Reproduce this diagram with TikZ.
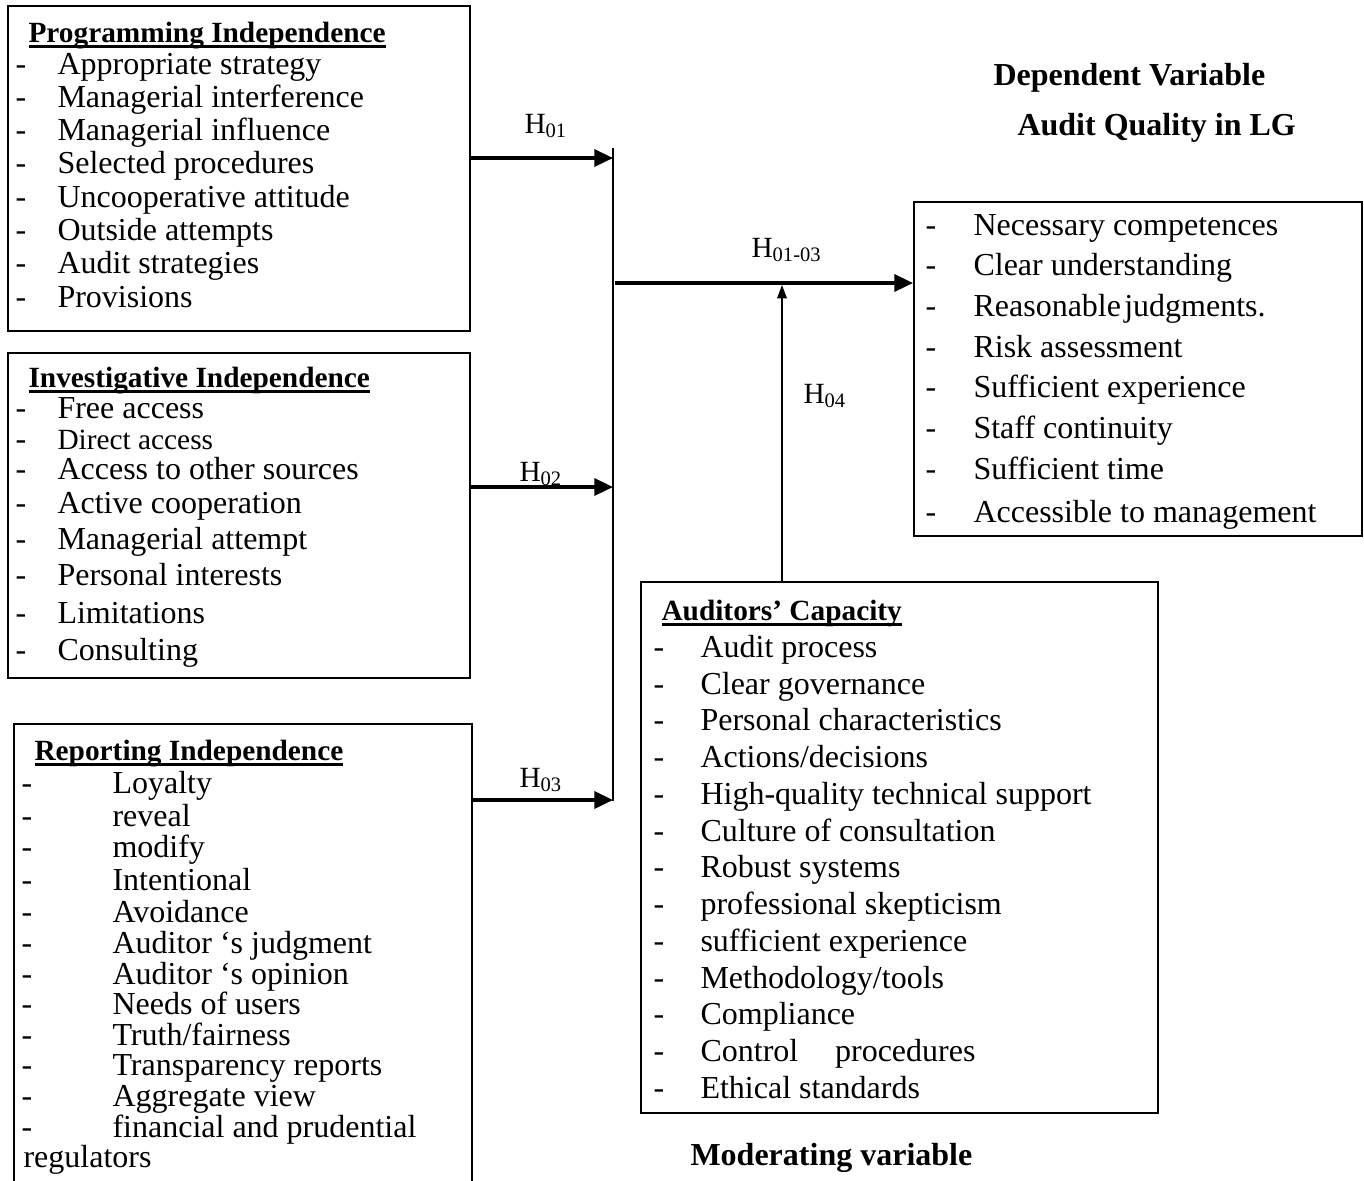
\documentclass[tikz,border=0pt]{standalone}
\usepackage{fontspec}
\setmainfont{Liberation Serif}
\usetikzlibrary{arrows.meta,fit}

% thick underline for the box headings
\newcommand{\headul}[1]{\setbox0=\hbox{#1}\rlap{\rule[-2.4pt]{\wd0}{1.1pt}}\box0}

\begin{document}
\begin{tikzpicture}[x=0.375pt,y=-0.375pt,
  box/.style={draw, line width=0.75pt, inner sep=0pt},
  item/.style={anchor=base west, inner sep=0pt, font=\fontsize{12}{14}\selectfont},
  head/.style={anchor=base west, inner sep=0pt, font=\fontsize{11}{13}\selectfont\bfseries},
  title/.style={anchor=base west, inner sep=0pt, font=\fontsize{12}{14}\selectfont\bfseries},
  hyp/.style={anchor=base west, inner sep=0pt, font=\fontsize{11}{13}\selectfont},
  link/.style={line width=1.2pt, -{Triangle[length=7pt,width=6.4pt]}},
  thinlink/.style={line width=0.55pt, -{Triangle[length=5pt,width=3.6pt]}}]
  \useasboundingbox (0,0) rectangle (1364,1180);
  \clip (0,0) rectangle (1364,1180);

  % independent variables
  \node[box, fit={(8,6) (470,331)}] (prog) {};
  \node[head] (proghead) at (28,42) {\headul{Programming Independence}};
  \foreach \y/\txt [count=\i] in {74/Appropriate strategy, 107/Managerial interference,
      140/Managerial influence, 173/Selected procedures, 207/Uncooperative attitude,
      240/Outside attempts, 273/Audit strategies, 307/Provisions} {
    \node[item] (progd\i) at (15,\y) {-};
    \node[item] (progi\i) at (57,\y) {\txt};
  }

  \node[box, fit={(8,353) (470,678)}] (invest) {};
  \node[head] (investhead) at (28,387) {\headul{Investigative Independence}};
  \foreach \y/\txt [count=\i] in {418/Free access, 449/{\fontsize{11}{13}\selectfont Direct access},
      479/Access to other sources, 513/Active cooperation, 549/Managerial attempt,
      585/Personal interests, 623/Limitations, 660/Consulting} {
    \node[item] (investd\i) at (15,\y) {-};
    \node[item] (investi\i) at (57,\y) {\txt};
  }

  \node[box, fit={(14,724) (472,1200)}] (report) {};
  \node[head] (reporthead) at (34,760) {\headul{Reporting Independence}};
  \foreach \y/\txt [count=\i] in {793/Loyalty, 826/reveal, 857/modify, 890/Intentional,
      922/Avoidance, 953/Auditor ‘s judgment, 984/Auditor ‘s opinion, 1014/Needs of users,
      1045/{Truth/fairness}, 1075/Transparency reports, 1106/Aggregate view,
      1137/financial and prudential} {
    \node[item] (reportd\i) at (21,\y) {-};
    \node[item] (reporti\i) at (112,\y) {\txt};
  }
  \node[item] (reportlast) at (23,1167) {regulators};

  % dependent variable
  \node[title] (deptitle) at (993,85) {Dependent Variable};
  \node[title] (depname) at (1017,135) {Audit Quality in LG};
  \node[box, fit={(914,202) (1362,536)}] (quality) {};
  \foreach \y/\txt [count=\i] in {235/Necessary competences, 275/Clear understanding,
      316/Reasonable\hspace{0.1em}judgments., 357/Risk assessment, 397/Sufficient experience,
      438/Staff continuity, 479/Sufficient time, 522/Accessible to management} {
    \node[item] (qualityd\i) at (925,\y) {-};
    \node[item] (qualityi\i) at (973,\y) {\txt};
  }

  % moderating variable
  \node[box, fit={(641,582) (1158,1113)}] (capacity) {};
  \node[head] (capacityhead) at (661,620) {\headul{Auditors’ Capacity}};
  \foreach \y/\txt [count=\i] in {657/Audit process, 694/Clear governance,
      730/Personal characteristics, 767/{Actions/decisions}, 804/High-quality technical support,
      841/Culture of consultation, 877/Robust systems, 914/professional skepticism,
      951/sufficient experience, 988/{Methodology/tools}, 1024/Compliance,
      1061/Control\hspace{1.15em}procedures, 1098/Ethical standards} {
    \node[item] (capacityd\i) at (653,\y) {-};
    \node[item] (capacityi\i) at (700,\y) {\txt};
  }
  \node[title] (modtitle) at (690,1165) {Moderating variable};

  % hypotheses
  \coordinate (bustop) at (613,148);
  \coordinate (busbot) at (613,801);
  \draw[line width=0.55pt] (bustop) -- (busbot);

  \coordinate (j1) at (613,158);
  \coordinate (j2) at (613,487);
  \coordinate (j3) at (613,800);
  \coordinate (j4) at (615,283);
  \coordinate (j5) at (782,285);
  \draw[link] (prog.east |- j1) -- (j1);
  \draw[link] (invest.east |- j2) -- (j2);
  \draw[link] (report.east |- j3) -- (j3);
  \draw[link] (j4) -- (quality.west |- j4);
  \draw[thinlink] (capacity.north -| j5) -- (j5);

  \node[hyp] (h1) at (524,133) {H\textsubscript{01}};
  \node[hyp] (h2) at (519,481) {H\textsubscript{02}};
  \node[hyp] (h3) at (519,787) {H\textsubscript{03}};
  \node[hyp] (h13) at (751,257) {H\textsubscript{01-03}};
  \node[hyp] (h4) at (803,403) {H\textsubscript{04}};
\end{tikzpicture}
\end{document}
